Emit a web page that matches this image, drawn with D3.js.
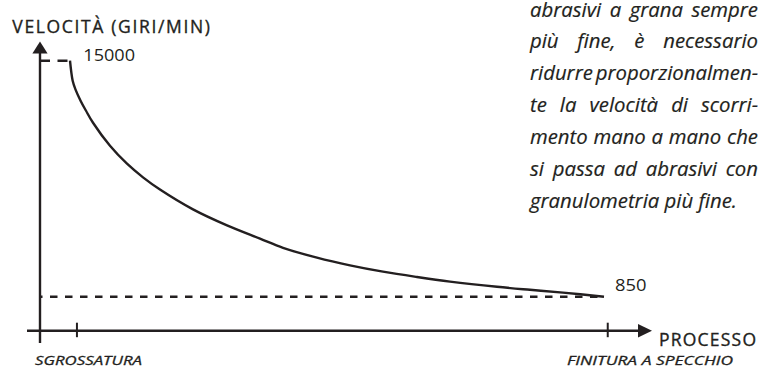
<!DOCTYPE html>
<html>
<head>
<meta charset="utf-8">
<script src="https://cdn.jsdelivr.net/npm/d3@7"></script>
<style>
  html, body { margin: 0; padding: 0; background: #fff; }
  svg { display: block; }
</style>
</head>
<body>
<svg id="chart" width="768" height="367"></svg>
<script>
// ---- data ----
const process = [0, 0.5, 1, 2, 3, 4.31, 7.49, 10.67, 13.67, 16.85, 23.03, 29.4, 35.58, 39.89, 46.25, 52.43, 58.61, 64.98, 71.16, 79.96, 86.14, 92.32, 100];
const velocity = [15000, 13794, 13295, 12587, 11998, 11278, 9897, 8823, 8006, 7274, 6085, 5125, 4332, 3780, 3191, 2729, 2351, 2033, 1757, 1444, 1264, 1096, 850];
const refValues = [15000, 850];
const refLabels = ["15000", "850"];
const processTicks = [1.3, 100.7];
const processLabels = ["SGROSSATURA", "FINITURA A SPECCHIO"];
const yTitle = "VELOCITÀ (GIRI/MIN)";
const xTitle = "PROCESSO";
const noteLines = [
  "abrasivi a grana sempre",
  "più fine, è necessario",
  "ridurre proporzionalmen-",
  "te la velocità di scorri-",
  "mento mano a mano che",
  "si passa ad abrasivi con",
  "granulometria più fine."
];

// ---- layout ----
const ink = "#231f20";
const svg = d3.select("#chart");
const axisX = 40;      // position of vertical axis
const axisY = 330.7;   // position of horizontal axis

const x = d3.scaleLinear().domain([0, 100]).range([70, 604]);
const y = d3.scaleLinear().domain([850, 15000]).range([296.7, 60.7]);

const sans = "'Open Sans', 'Noto Sans', sans-serif";

// reference dashed lines
const refX = [x(process[0]), x(process[process.length - 1])];
const refDash = [{a: "10,7.5", o: 0}, {a: "7.5,7.5", o: 5}];
svg.selectAll("line.ref").data(refValues).join("line")
  .attr("class", "ref")
  .attr("x1", axisX).attr("x2", (d, i) => refX[i])
  .attr("y1", d => y(d)).attr("y2", d => y(d))
  .attr("stroke", ink).attr("stroke-width", 2.5)
  .attr("stroke-dasharray", (d, i) => refDash[i].a)
  .attr("stroke-dashoffset", (d, i) => refDash[i].o);

// curve
const pts = process.map((p, i) => [p, velocity[i]]);
svg.append("path")
  .datum(pts)
  .attr("fill", "none").attr("stroke", ink).attr("stroke-width", 2.4)
  .attr("d", d3.line().x(d => x(d[0])).y(d => y(d[1])).curve(d3.curveCatmullRom.alpha(0.5)));

// vertical axis with arrow
svg.append("line").attr("x1", axisX).attr("x2", axisX).attr("y1", 52).attr("y2", 343)
  .attr("stroke", ink).attr("stroke-width", 2.4);
svg.append("path").attr("d", `M${axisX},41.5 L${axisX - 7.6},53.5 L${axisX + 7.6},53.5 Z`).attr("fill", ink);

// horizontal axis with arrow
svg.append("line").attr("x1", 27).attr("x2", 640).attr("y1", axisY).attr("y2", axisY)
  .attr("stroke", ink).attr("stroke-width", 2.4);
svg.append("path").attr("d", `M652,${axisY} L638,${axisY - 6.8} L638,${axisY + 6.8} Z`).attr("fill", ink);

// ticks
svg.selectAll("line.tick").data(processTicks).join("line")
  .attr("class", "tick")
  .attr("x1", d => x(d)).attr("x2", d => x(d))
  .attr("y1", axisY - 8).attr("y2", axisY + 6.5)
  .attr("stroke", ink).attr("stroke-width", 2);

// tick labels
const tickLabelPos = [{x: 35, w: 107}, {x: 567, w: 166}];
svg.selectAll("text.tl").data(processLabels).join("text")
  .attr("class", "tl")
  .attr("x", (d, i) => tickLabelPos[i].x).attr("y", 364.5)
  .attr("font-family", sans).attr("font-style", "italic").attr("font-weight", 500)
  .attr("font-size", 13)
  .attr("fill", ink).attr("stroke", ink).attr("stroke-width", 0.3)
  .attr("textLength", (d, i) => tickLabelPos[i].w).attr("lengthAdjust", "spacingAndGlyphs")
  .text(d => d);

// reference value labels
const refLabelPos = [{x: 83.3, w: 51.7, dy: 0.3}, {x: 615, w: 31.5, dy: -5.3}];
svg.selectAll("text.rl").data(refValues).join("text")
  .attr("class", "rl")
  .attr("x", (d, i) => refLabelPos[i].x)
  .attr("y", (d, i) => y(d) + refLabelPos[i].dy)
  .attr("font-family", sans).attr("font-size", 16).attr("font-weight", 500)
  .attr("fill", ink)
  .attr("textLength", (d, i) => refLabelPos[i].w).attr("lengthAdjust", "spacingAndGlyphs")
  .text((d, i) => refLabels[i]);

// axis titles
svg.append("text").attr("x", 12.3).attr("y", 33.3)
  .attr("font-family", sans).attr("font-size", 17.5).attr("font-weight", 500).attr("fill", ink)
  .attr("textLength", 197.7).attr("lengthAdjust", "spacing")
  .attr("stroke", ink).attr("stroke-width", 0.35)
  .text(yTitle);
svg.append("text").attr("x", 659).attr("y", 346)
  .attr("font-family", sans).attr("font-size", 17.5).attr("font-weight", 500).attr("fill", ink)
  .attr("textLength", 97).attr("lengthAdjust", "spacing")
  .attr("stroke", ink).attr("stroke-width", 0.35)
  .text(xTitle);

// justified italic note
const left = 530, right = 758, base0 = 16.5, lh = 31.9;
const probe = svg.append("text").attr("font-family", sans).attr("font-style", "italic")
  .attr("font-weight", 500).attr("font-size", 16).text(noteLines[noteLines.length - 1]);
const natural = probe.node().getComputedTextLength();
probe.remove();
const fs = 16 * 207 / natural;

const note = svg.append("g").attr("font-family", sans).attr("font-style", "italic")
  .attr("font-weight", 500).attr("font-size", fs).attr("fill", ink)
  .attr("stroke", ink).attr("stroke-width", 0.2);
noteLines.forEach((line, li) => {
  const words = line.split(" ");
  const by = base0 + li * lh;
  const last = li === noteLines.length - 1;
  const nodes = words.map(w => note.append("text").attr("y", by).text(w));
  const widths = nodes.map(n => n.node().getComputedTextLength());
  const total = d3.sum(widths);
  const gap = (last || words.length < 2) ? fs * 0.26 : (right - left - total) / (words.length - 1);
  let cx = left;
  nodes.forEach((n, i) => { n.attr("x", cx); cx += widths[i] + gap; });
});
</script>
</body>
</html>
